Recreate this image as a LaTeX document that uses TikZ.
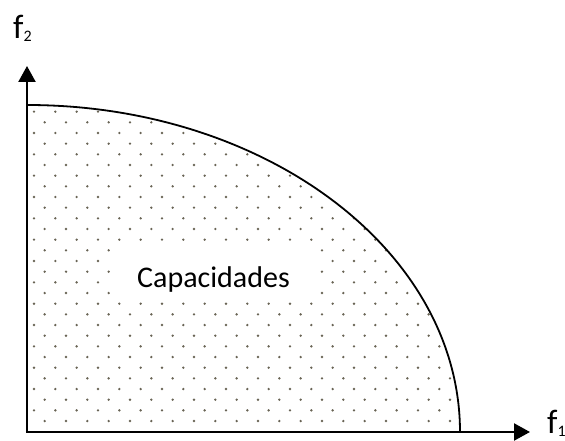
\documentclass[tikz,border=0pt]{standalone}
\usepackage{fontspec}
\setmainfont{Carlito}
\usetikzlibrary{arrows.meta}
\definecolor{dotcol}{RGB}{105,100,85}
\newcommand{\subdigit}[1]{\raisebox{-3pt}{\fontsize{16}{16}\selectfont #1}}
\tikzset{
  axis/.style={line width=2.3pt,-{Triangle[length=16pt,width=17pt]}},
  frontier/.style={line width=1.8pt},
  lbl/.style={font=\fontsize{34}{40}\selectfont,inner sep=0pt,anchor=base west},
  capbox/.style={fill=white,font=\fontsize{30}{36}\selectfont,text height=43pt,text depth=12pt,inner xsep=24.5pt,inner ysep=0pt,anchor=base}
}
\begin{document}
\begin{tikzpicture}[x=1pt,y=1pt]
\useasboundingbox (0,0) rectangle (565,441);
\coordinate (O) at (27,9);
\coordinate (Ytop) at (27,336);
\coordinate (Xend) at (460,9);
\coordinate (Ytip) at (27,375);
\coordinate (Xtip) at (530,9);
% dotted region
\begin{scope}
  \clip (O) -- (Ytop) arc[start angle=90,end angle=0,x radius=433,y radius=327] -- cycle;
  \foreach \k in {0,...,29}{
    \pgfmathsetmacro{\yy}{441-(111.7+\k*10.667)}
    \pgfmathsetmacro{\xo}{34+mod(\k,2)*10.667}
    \foreach \m in {0,...,20}{
      \fill[dotcol] ({\xo+\m*21.333},\yy) circle (1.3pt);
    }
  }
\end{scope}
\node[capbox] (cap) at (213.5,153) {Capacidades};
\draw[frontier] (Ytop) arc[start angle=90,end angle=0,x radius=433,y radius=327];
\draw[axis] (O) -- (Ytip);
\draw[axis] ([xshift=-1.15pt]O) -- (Xtip);
\node[lbl] (f2) at (13,402) {f\subdigit{2}};
\node[lbl] (f1) at (547,7) {f\subdigit{1}};
\end{tikzpicture}
\end{document}
